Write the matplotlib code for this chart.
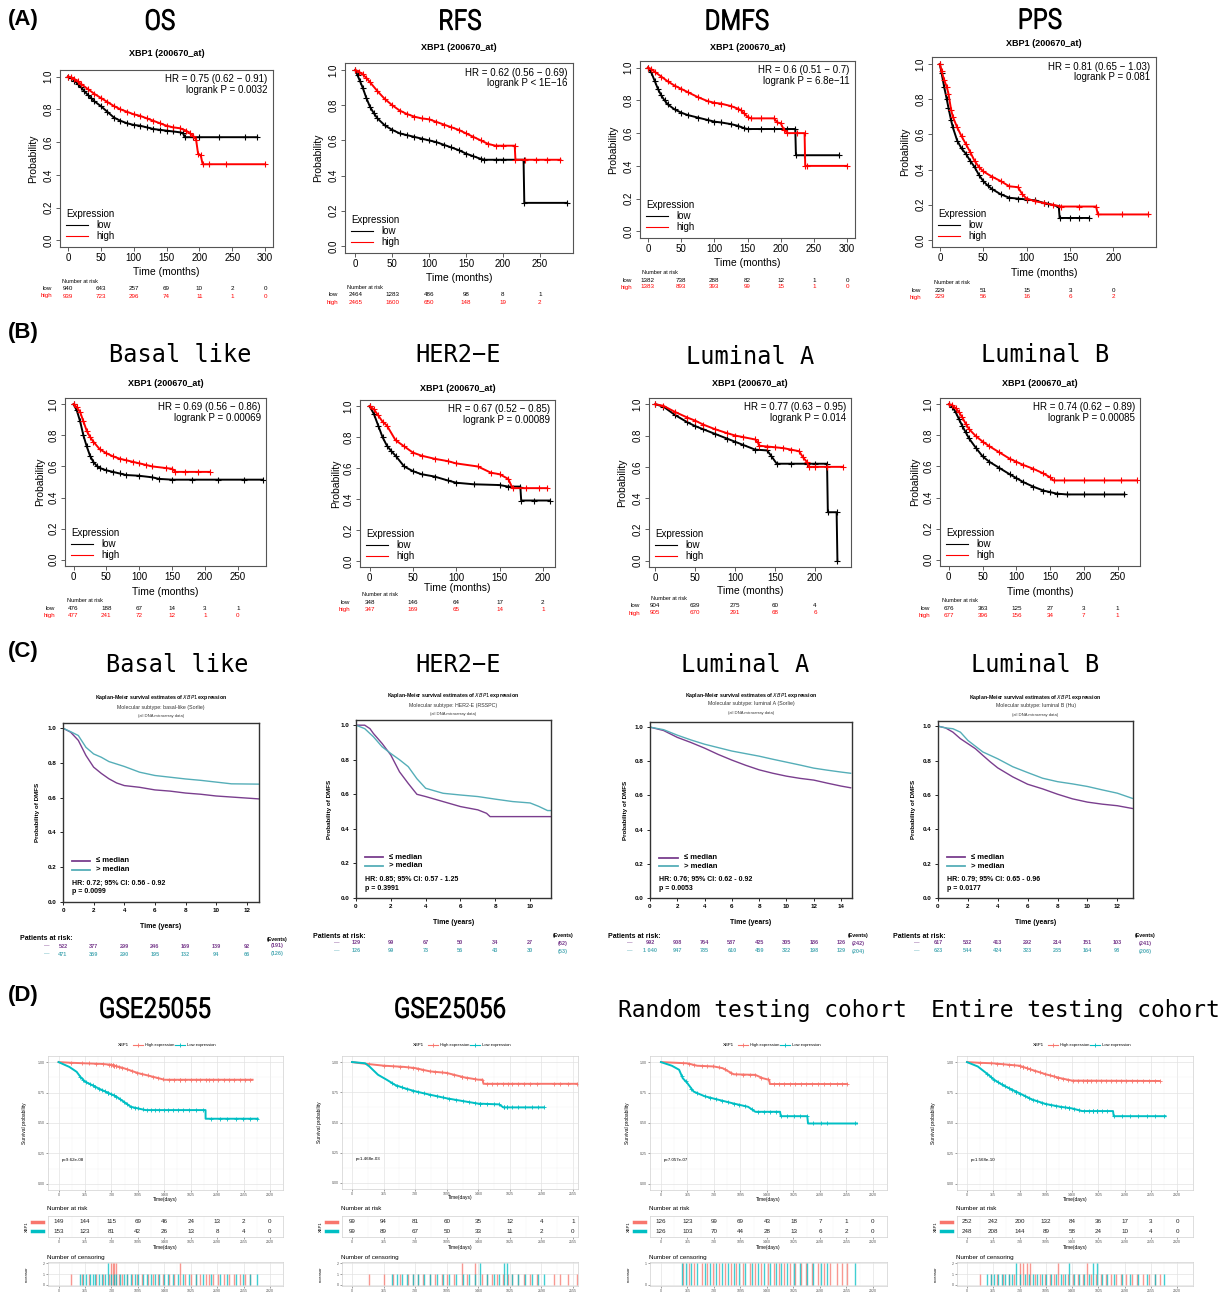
import numpy as np
import matplotlib
matplotlib.use('Agg')
import matplotlib.pyplot as plt
import matplotlib.patheffects as pe
from matplotlib import font_manager
from matplotlib.lines import Line2D
from matplotlib.transforms import blended_transform_factory

# ---------------- data ----------------
# (A) KM-plotter, time in months
os_low_t = [0, 5, 10, 15, 20, 25, 30, 35, 40, 50, 60, 70, 80, 90, 100, 110, 120, 130, 140, 150, 160, 170, 175, 178, 190, 200, 230, 270, 288]
os_low_s = [1.0, 0.99, 0.975, 0.955, 0.935, 0.91, 0.89, 0.87, 0.85, 0.82, 0.785, 0.75, 0.73, 0.715, 0.705, 0.70, 0.69, 0.68, 0.675, 0.67, 0.665, 0.66, 0.655, 0.63, 0.63, 0.63, 0.63, 0.63, 0.63]
os_high_t = [0, 5, 10, 15, 20, 30, 40, 50, 60, 70, 80, 90, 100, 110, 120, 130, 140, 150, 160, 170, 180, 185, 190, 195, 198, 202, 205, 215, 240, 300]
os_high_s = [1.0, 0.995, 0.985, 0.97, 0.955, 0.925, 0.895, 0.87, 0.845, 0.82, 0.80, 0.785, 0.77, 0.76, 0.745, 0.73, 0.715, 0.70, 0.69, 0.685, 0.67, 0.655, 0.64, 0.615, 0.53, 0.52, 0.465, 0.465, 0.465, 0.465]
os_risk_t = [0, 50, 100, 150, 200, 250, 300]
os_risk_low = [940, 643, 257, 69, 10, 2, 0]
os_risk_high = [939, 723, 296, 74, 11, 1, 0]

rfs_low_t = [0, 3, 6, 10, 15, 20, 25, 30, 40, 50, 60, 70, 80, 90, 100, 110, 120, 130, 140, 150, 160, 170, 175, 190, 200, 228, 229, 287]
rfs_low_s = [1.0, 0.97, 0.94, 0.90, 0.84, 0.79, 0.755, 0.725, 0.685, 0.66, 0.64, 0.63, 0.62, 0.61, 0.60, 0.59, 0.575, 0.56, 0.545, 0.525, 0.51, 0.495, 0.49, 0.49, 0.49, 0.49, 0.245, 0.245]
rfs_high_t = [0, 5, 10, 15, 20, 30, 40, 50, 60, 70, 80, 90, 100, 110, 120, 130, 140, 150, 160, 170, 180, 190, 200, 216, 217, 230, 245, 260, 278]
rfs_high_s = [1.0, 0.99, 0.975, 0.955, 0.93, 0.88, 0.835, 0.80, 0.77, 0.75, 0.735, 0.725, 0.72, 0.705, 0.69, 0.675, 0.66, 0.64, 0.62, 0.60, 0.58, 0.57, 0.57, 0.57, 0.49, 0.49, 0.49, 0.49, 0.49]
rfs_risk_t = [0, 50, 100, 150, 200, 250]
rfs_risk_low = [2464, 1283, 486, 98, 8, 1]
rfs_risk_high = [2465, 1600, 650, 148, 19, 2]

dmfs_low_t = [0, 5, 10, 15, 20, 25, 30, 40, 50, 60, 75, 90, 100, 110, 125, 135, 145, 150, 170, 190, 210, 222, 223, 235, 288]
dmfs_low_s = [1.0, 0.97, 0.92, 0.87, 0.83, 0.80, 0.775, 0.745, 0.725, 0.71, 0.695, 0.68, 0.67, 0.665, 0.655, 0.645, 0.63, 0.625, 0.625, 0.625, 0.625, 0.625, 0.465, 0.465, 0.465]
dmfs_high_t = [0, 5, 10, 20, 30, 40, 50, 60, 75, 90, 100, 110, 125, 135, 140, 145, 150, 155, 170, 190, 195, 200, 205, 210, 225, 236, 237, 240, 300]
dmfs_high_s = [1.0, 0.99, 0.975, 0.945, 0.915, 0.89, 0.87, 0.85, 0.82, 0.795, 0.785, 0.78, 0.765, 0.75, 0.74, 0.72, 0.70, 0.69, 0.69, 0.69, 0.665, 0.66, 0.62, 0.60, 0.60, 0.60, 0.40, 0.40, 0.40]
dmfs_risk_t = [0, 50, 100, 150, 200, 250, 300]
dmfs_risk_low = [1382, 738, 288, 82, 12, 1, 0]
dmfs_risk_high = [1383, 893, 393, 99, 15, 1, 0]

pps_low_t = [0, 2, 5, 8, 10, 13, 15, 20, 25, 30, 35, 40, 45, 50, 55, 60, 70, 80, 90, 100, 110, 120, 125, 137, 138, 150, 160, 172]
pps_low_s = [1.0, 0.95, 0.87, 0.80, 0.75, 0.68, 0.64, 0.565, 0.52, 0.49, 0.45, 0.415, 0.37, 0.335, 0.31, 0.29, 0.26, 0.24, 0.235, 0.23, 0.225, 0.21, 0.205, 0.19, 0.125, 0.125, 0.125, 0.125]
pps_high_t = [0, 2, 5, 8, 10, 13, 15, 20, 25, 30, 35, 40, 45, 50, 60, 70, 80, 90, 95, 100, 110, 120, 130, 140, 160, 180, 182, 210, 240]
pps_high_s = [1.0, 0.96, 0.91, 0.87, 0.83, 0.74, 0.70, 0.64, 0.59, 0.545, 0.50, 0.45, 0.415, 0.39, 0.36, 0.335, 0.305, 0.30, 0.26, 0.235, 0.22, 0.21, 0.20, 0.19, 0.19, 0.19, 0.145, 0.145, 0.145]
pps_risk_t = [0, 50, 100, 150, 200]
pps_risk_low = [229, 51, 15, 3, 0]
pps_risk_high = [229, 56, 16, 6, 2]

# (B) KM-plotter by PAM50 subtype
bb_low_t = [0, 5, 10, 15, 20, 25, 30, 35, 40, 50, 60, 70, 80, 100, 120, 130, 150, 180, 220, 260, 288]
bb_low_s = [1.0, 0.96, 0.89, 0.80, 0.73, 0.67, 0.63, 0.605, 0.59, 0.575, 0.565, 0.555, 0.545, 0.54, 0.53, 0.52, 0.515, 0.515, 0.515, 0.515, 0.515]
bb_high_t = [0, 5, 10, 15, 20, 25, 30, 40, 50, 60, 70, 80, 90, 100, 110, 120, 140, 150, 155, 170, 190, 207]
bb_high_s = [1.0, 0.98, 0.95, 0.89, 0.83, 0.79, 0.76, 0.71, 0.685, 0.665, 0.65, 0.64, 0.63, 0.62, 0.61, 0.60, 0.59, 0.585, 0.565, 0.565, 0.565, 0.565]
bb_risk_t = [0, 50, 100, 150, 200, 250]
bb_risk_low = [476, 188, 67, 14, 3, 1]
bb_risk_high = [477, 241, 72, 12, 1, 0]

bh_low_t = [0, 5, 10, 15, 20, 25, 30, 40, 50, 60, 75, 90, 100, 120, 150, 160, 174, 175, 190, 208]
bh_low_s = [1.0, 0.95, 0.875, 0.80, 0.745, 0.71, 0.68, 0.61, 0.58, 0.56, 0.545, 0.52, 0.505, 0.495, 0.49, 0.48, 0.48, 0.39, 0.39, 0.39]
bh_high_t = [0, 5, 10, 15, 20, 30, 40, 50, 60, 75, 90, 100, 125, 140, 150, 160, 165, 180, 195, 205]
bh_high_s = [1.0, 0.98, 0.94, 0.90, 0.875, 0.78, 0.74, 0.70, 0.68, 0.66, 0.645, 0.63, 0.61, 0.57, 0.56, 0.53, 0.47, 0.47, 0.47, 0.47]
bh_risk_t = [0, 50, 100, 150, 200]
bh_risk_low = [348, 146, 64, 17, 2]
bh_risk_high = [347, 169, 65, 14, 1]

bla_low_t = [0, 10, 25, 40, 50, 60, 75, 90, 100, 110, 125, 140, 145, 152, 170, 190, 200, 215, 216, 227, 228]
bla_low_s = [1.0, 0.985, 0.93, 0.885, 0.86, 0.84, 0.81, 0.78, 0.76, 0.74, 0.71, 0.705, 0.67, 0.62, 0.62, 0.62, 0.62, 0.62, 0.31, 0.31, 0.0]
bla_high_t = [0, 10, 25, 40, 50, 60, 75, 90, 100, 110, 125, 128, 130, 140, 150, 160, 170, 180, 185, 190, 192, 200, 215, 235]
bla_high_s = [1.0, 0.99, 0.95, 0.915, 0.895, 0.87, 0.84, 0.815, 0.80, 0.79, 0.775, 0.76, 0.735, 0.73, 0.725, 0.72, 0.71, 0.70, 0.66, 0.63, 0.60, 0.60, 0.60, 0.60]
bla_risk_t = [0, 50, 100, 150, 200]
bla_risk_low = [904, 639, 275, 60, 4]
bla_risk_high = [905, 670, 291, 68, 6]

blb_low_t = [0, 5, 10, 15, 20, 25, 30, 40, 50, 60, 75, 90, 100, 110, 125, 140, 150, 160, 175, 200, 230, 260]
blb_low_s = [1.0, 0.985, 0.95, 0.905, 0.86, 0.82, 0.78, 0.72, 0.665, 0.63, 0.59, 0.55, 0.525, 0.50, 0.47, 0.445, 0.435, 0.425, 0.42, 0.42, 0.42, 0.42]
blb_high_t = [0, 5, 10, 15, 20, 25, 30, 40, 50, 60, 75, 90, 100, 110, 125, 140, 150, 155, 170, 200, 230, 255, 278]
blb_high_s = [1.0, 0.995, 0.975, 0.95, 0.915, 0.875, 0.84, 0.795, 0.76, 0.73, 0.69, 0.65, 0.63, 0.61, 0.585, 0.555, 0.53, 0.51, 0.51, 0.51, 0.51, 0.51, 0.51]
blb_risk_t = [0, 50, 100, 150, 200, 250]
blb_risk_low = [676, 363, 125, 27, 3, 1]
blb_risk_high = [677, 396, 156, 34, 7, 1]

# (C) DMFS by subtype, time in years (<= median / > median)
cb_low_t = [0, 0.5, 1, 1.5, 2, 2.5, 3, 3.5, 4, 5, 6, 7, 8, 9, 10, 11, 12, 13]
cb_low_s = [1.0, 0.977, 0.93, 0.843, 0.776, 0.74, 0.709, 0.685, 0.67, 0.66, 0.645, 0.638, 0.627, 0.62, 0.61, 0.604, 0.598, 0.592]
cb_high_t = [0, 0.5, 1, 1.5, 2, 2.5, 3, 4, 5, 6, 7, 8, 9, 10, 11, 13]
cb_high_s = [1.0, 0.98, 0.958, 0.89, 0.852, 0.833, 0.808, 0.78, 0.747, 0.728, 0.718, 0.708, 0.70, 0.69, 0.68, 0.678]
cb_risk_t = [0, 2, 4, 6, 8, 10, 12]
cb_risk_low = [522, 377, 299, 246, 169, 139, 92]
cb_risk_high = [471, 359, 290, 195, 132, 94, 66]
cb_events = ['(191)', '(126)']

ch_low_t = [0, 0.5, 0.8, 1, 1.5, 2, 2.5, 3, 3.3, 3.5, 4, 5, 6, 7, 7.5, 7.7, 11.2]
ch_low_s = [1.0, 1.0, 0.98, 0.952, 0.894, 0.827, 0.73, 0.663, 0.625, 0.60, 0.587, 0.558, 0.529, 0.51, 0.49, 0.471, 0.471]
ch_high_t = [0, 0.5, 1, 1.5, 2, 2.5, 3, 3.5, 4, 5, 6, 7, 8, 9, 10, 10.5, 11, 11.2]
ch_high_s = [1.0, 0.98, 0.933, 0.875, 0.836, 0.80, 0.76, 0.69, 0.635, 0.606, 0.596, 0.587, 0.572, 0.558, 0.55, 0.53, 0.506, 0.506]
ch_risk_t = [0, 2, 4, 6, 8, 10]
ch_risk_low = [129, 99, 67, 50, 34, 27]
ch_risk_high = [126, 99, 73, 56, 43, 30]
ch_events = ['(62)', '(53)']

cla_low_t = [0, 1, 2, 3, 4, 5, 6, 7, 8, 9, 10, 11, 12, 13, 14, 14.7]
cla_low_s = [1.0, 0.98, 0.94, 0.91, 0.877, 0.84, 0.807, 0.777, 0.75, 0.73, 0.713, 0.70, 0.69, 0.672, 0.655, 0.645]
cla_high_t = [0, 1, 2, 3, 4, 5, 6, 7, 8, 9, 10, 11, 12, 13, 14, 14.7]
cla_high_s = [1.0, 0.985, 0.953, 0.925, 0.90, 0.88, 0.86, 0.845, 0.83, 0.812, 0.795, 0.778, 0.76, 0.748, 0.737, 0.73]
cla_risk_t = [0, 2, 4, 6, 8, 10, 12, 14]
cla_risk_low = [992, 908, 764, 587, 425, 305, 186, 126]
cla_risk_high = ['1 040', 947, 785, 610, 459, 322, 198, 129]
cla_events = ['(242)', '(204)']

clb_low_t = [0, 0.5, 1, 1.5, 2, 2.5, 3, 3.5, 4, 5, 6, 7, 8, 9, 10, 11, 12, 13]
clb_low_s = [1.0, 0.99, 0.965, 0.927, 0.898, 0.869, 0.83, 0.792, 0.757, 0.705, 0.662, 0.635, 0.604, 0.577, 0.558, 0.546, 0.537, 0.521]
clb_high_t = [0, 0.5, 1, 1.5, 2, 3, 4, 5, 6, 7, 8, 9, 10, 11, 12, 13]
clb_high_s = [1.0, 0.99, 0.985, 0.965, 0.917, 0.85, 0.81, 0.764, 0.73, 0.697, 0.677, 0.664, 0.649, 0.629, 0.61, 0.58]
clb_risk_t = [0, 2, 4, 6, 8, 10, 12]
clb_risk_low = [617, 532, 413, 292, 214, 151, 103]
clb_risk_high = [623, 544, 424, 323, 235, 164, 98]
clb_events = ['(241)', '(206)']

# (D) GEO cohorts, time in days (High / Low expression)
d55_high_t = [0, 150, 365, 600, 730, 900, 1000, 1095, 1200, 1300, 1400, 1460, 2680]
d55_high_s = [1.0, 0.995, 0.99, 0.985, 0.978, 0.95, 0.93, 0.91, 0.895, 0.88, 0.865, 0.855, 0.855]
d55_low_t = [0, 150, 250, 300, 365, 500, 600, 700, 800, 900, 1000, 1095, 1200, 2030, 2031, 2750]
d55_low_s = [1.0, 0.96, 0.92, 0.88, 0.84, 0.80, 0.77, 0.744, 0.716, 0.675, 0.633, 0.62, 0.606, 0.606, 0.535, 0.535]
d55_cens_high = [165, 330, 420, 520, 610, 700, 725, 725, 745, 745, 770, 770, 790, 790, 830, 880, 940, 1010, 1080, 1150, 1230, 1300, 1370, 1440, 1520, 1600, 1680, 1680, 1750, 1830, 1900, 1960, 2030, 2080, 2130, 2200, 2280, 2350, 2420, 2500, 2580, 2650]
d55_cens_low = [300, 340, 380, 430, 470, 510, 560, 600, 640, 677, 677, 720, 760, 800, 850, 900, 950, 1000, 1050, 1100, 1160, 1220, 1280, 1330, 1390, 1450, 1510, 1580, 1650, 1720, 1800, 1900, 2000, 2100, 2230, 2330, 2450, 2550, 2650, 2740]
d55_risk_high = [149, 144, 115, 69, 46, 24, 13, 2, 0]
d55_risk_low = [153, 123, 81, 42, 26, 13, 8, 4, 0]

d56_high_t = [0, 100, 365, 600, 730, 900, 1095, 1300, 1460, 1510, 1520, 2620]
d56_high_s = [1.0, 0.99, 0.97, 0.96, 0.95, 0.923, 0.91, 0.873, 0.854, 0.854, 0.82, 0.82]
d56_low_t = [0, 150, 200, 300, 400, 500, 600, 730, 900, 1095, 1300, 1460, 1700, 1750, 2215]
d56_low_s = [1.0, 0.99, 0.964, 0.895, 0.854, 0.81, 0.785, 0.758, 0.73, 0.70, 0.675, 0.656, 0.65, 0.625, 0.625]
d56_cens_high = [193, 366, 470, 560, 650, 700, 760, 820, 900, 960, 1040, 1100, 1180, 1272, 1272, 1330, 1426, 1426, 1500, 1560, 1620, 1680, 1740, 1800, 1850, 1920, 1990, 2060, 2140, 2331, 2408, 2500, 2600]
d56_cens_low = [460, 520, 580, 640, 700, 760, 830, 900, 980, 1050, 1120, 1200, 1280, 1350, 1420, 1484, 1484, 1560, 1640, 1700, 1753, 1753, 1790, 1790, 1850, 1920, 2000, 2080, 2150, 2215]
d56_risk_high = [99, 94, 81, 60, 35, 12, 4, 1]
d56_risk_low = [99, 89, 67, 50, 33, 11, 2, 0]

rnd_high_t = [0, 365, 500, 730, 850, 1000, 1300, 1400, 1490, 1500, 2560]
rnd_high_s = [1.0, 0.99, 0.97, 0.964, 0.95, 0.90, 0.895, 0.868, 0.854, 0.82, 0.82]
rnd_low_t = [0, 150, 250, 300, 365, 450, 600, 730, 1000, 1200, 1300, 1640, 1650, 2015, 2025, 2700]
rnd_low_s = [1.0, 0.97, 0.937, 0.868, 0.826, 0.758, 0.72, 0.70, 0.66, 0.633, 0.592, 0.592, 0.556, 0.556, 0.496, 0.496]
rnd_cens_high = [300, 380, 450, 560, 640, 720, 800, 880, 960, 1040, 1130, 1220, 1300, 1380, 1470, 1550, 1620, 1700, 1780, 1850, 1930, 2000, 2080, 2160, 2250, 2330, 2420, 2500, 2560]
rnd_cens_low = [290, 340, 420, 500, 600, 680, 760, 840, 920, 1000, 1080, 1160, 1250, 1330, 1420, 1500, 1580, 1660, 1740, 1830, 1920, 2010, 2100, 2200, 2290, 2676]
rnd_risk_high = [126, 123, 99, 69, 43, 18, 7, 1, 0]
rnd_risk_low = [126, 103, 70, 44, 28, 13, 6, 2, 0]

ent_high_t = [0, 150, 365, 730, 900, 1095, 1300, 1460, 2680]
ent_high_s = [1.0, 0.995, 0.99, 0.97, 0.937, 0.90, 0.868, 0.848, 0.845]
ent_low_t = [0, 150, 300, 365, 500, 730, 900, 1095, 1300, 1460, 1600, 2030, 2040, 2760]
ent_low_s = [1.0, 0.964, 0.895, 0.86, 0.81, 0.744, 0.694, 0.656, 0.633, 0.62, 0.598, 0.598, 0.556, 0.556]
ent_cens_high = [177, 340, 420, 500, 580, 660, 735, 735, 780, 780, 830, 830, 875, 875, 940, 1010, 1080, 1150, 1210, 1270, 1270, 1340, 1410, 1480, 1550, 1610, 1665, 1665, 1720, 1790, 1860, 1930, 2000, 2070, 2140, 2210, 2290, 2370, 2450, 2530, 2620, 2680]
ent_cens_low = [280, 330, 380, 430, 480, 530, 580, 630, 688, 688, 740, 800, 860, 920, 980, 1040, 1100, 1170, 1240, 1300, 1360, 1423, 1423, 1490, 1560, 1630, 1700, 1758, 1758, 1805, 1805, 1870, 1950, 2050, 2150, 2260, 2380, 2500, 2620, 2740]
ent_risk_high = [252, 242, 200, 132, 84, 36, 17, 3, 0]
ent_risk_low = [248, 208, 144, 89, 58, 24, 10, 4, 0]

# ---------------- fonts / figure ----------------
installed = {f.name for f in font_manager.fontManager.ttflist}


def pick(*names):
    for n in names:
        if n in installed:
            return n
    return 'DejaVu Sans'


SANS = pick('Liberation Sans', 'Arimo', 'DejaVu Sans')
NARROW = pick('Liberation Sans Narrow', 'DejaVu Sans Condensed', 'Roboto Condensed', 'Open Sans Condensed', 'Noto Sans')
MONO = pick('DejaVu Sans Mono', 'Liberation Mono')
# lightest face the condensed family has, thickened a little with a stroke below
narrow_weights = [f.weight for f in font_manager.fontManager.ttflist if f.name == NARROW]
NARROW_W = min([w if isinstance(w, int) else 400 for w in narrow_weights] or [400])
NARROW_W = max(NARROW_W, 300)
plt.rcParams['font.family'] = [SANS, 'DejaVu Sans']

W, H = 1225, 1294
fig = plt.figure(figsize=(W / 100, H / 100), dpi=100)

PURPLE = '#7A3E8E'
TEAL = '#55AEB8'
RED_D = '#F8766D'
TEAL_D = '#00BFC4'


def box(x0, y0, x1, y1):
    return [x0 / W, 1 - y1 / H, (x1 - x0) / W, (y1 - y0) / H]


def txt(x, y, s, **kw):
    kw.setdefault('ha', 'center')
    kw.setdefault('va', 'center')
    return fig.text(x / W, 1 - y / H, s, **kw)


def title_txt(x, y, s, font, size):
    if font == NARROW:
        t = txt(x, y, s, fontsize=size, family=font, fontweight=NARROW_W)
        if NARROW_W < 400:
            t.set_path_effects([pe.withStroke(linewidth=0.9, foreground='black')])
    else:
        txt(x, y, s, fontsize=size, family=font)


# panel letters
for lab, y in [('(A)', 20), ('(B)', 333), ('(C)', 652), ('(D)', 995)]:
    txt(8, y, lab, ha='left', fontsize=16, fontweight='bold')


# ---------------- (A) and (B): KM plotter style ----------------
def draw_kmplot(lay, title, tfont, low_t, low_s, high_t, high_s, hr, risk_t, risk_low, risk_high):
    x0, y0, x1, y1 = lay['box']
    ax = fig.add_axes(box(x0, y0, x1, y1))
    ax.plot(low_t, low_s, color='black', lw=1.4, marker='+', ms=4, mew=0.8)
    ax.plot(high_t, high_s, color='red', lw=1.4, marker='+', ms=4, mew=0.8)
    ax.set_xlim(*lay['xlim'])
    ax.set_ylim(-0.04, 1.04)
    ax.set_xticks(risk_t)
    ax.set_yticks([0, 0.2, 0.4, 0.6, 0.8, 1.0])
    ax.set_yticklabels(['0.0', '0.2', '0.4', '0.6', '0.8', '1.0'], rotation=90, va='center')
    ax.tick_params(labelsize=7, length=3, width=0.6, color='#444444', pad=1.5)
    for sp in ax.spines.values():
        sp.set_color('#555555')
        sp.set_linewidth(0.8)
    ax.text(0.975, 0.975, hr, transform=ax.transAxes, ha='right', va='top', fontsize=7, linespacing=1.05)
    ax.legend([Line2D([], [], color='black', lw=0.8), Line2D([], [], color='red', lw=0.8)], ['low', 'high'],
              title='Expression', loc='lower left', frameon=False, fontsize=7, title_fontsize=7,
              handlelength=2.3, borderaxespad=0.2, labelspacing=0.1, alignment='left')
    cx = (x0 + x1) / 2
    title_txt(lay['title'][0], lay['title'][1], title, tfont, lay.get('tsize', 20))
    txt(cx, lay['sub'], 'XBP1 (200670_at)', fontsize=6.5, fontweight='bold')
    txt(cx, lay['xl'], 'Time (months)', fontsize=7.5)
    txt(lay['yl'], (y0 + y1) / 2, 'Probability', fontsize=7.5, rotation=90)
    r0 = lay['risk']
    txt(x0 + 2, r0, 'Number at risk', ha='left', fontsize=4)
    txt(lay['lab'], r0 + 7, 'low', ha='right', fontsize=4.5)
    txt(lay['lab'], r0 + 14, 'high', ha='right', fontsize=4.5, color='red')
    tr = blended_transform_factory(ax.transData, fig.transFigure)
    for t, a, b in zip(risk_t, risk_low, risk_high):
        ax.text(t, 1 - (r0 + 7) / H, str(a), transform=tr, ha='center', va='center', fontsize=4.5)
        ax.text(t, 1 - (r0 + 14) / H, str(b), transform=tr, ha='center', va='center', fontsize=4.5, color='red')


draw_kmplot(dict(box=(60, 70, 273, 247), xlim=(-12, 312), title=(160, 22), sub=54, xl=272, yl=33, risk=282, lab=52),
            'OS', NARROW, os_low_t, os_low_s, os_high_t, os_high_s,
            'HR = 0.75 (0.62 \u2212 0.91)\nlogrank P = 0.0032', os_risk_t, os_risk_low, os_risk_high)
draw_kmplot(dict(box=(345, 63, 573, 253), xlim=(-14, 295), title=(460, 22), sub=48, xl=278, yl=318, risk=288, lab=338),
            'RFS', NARROW, rfs_low_t, rfs_low_s, rfs_high_t, rfs_high_s,
            'HR = 0.62 (0.56 \u2212 0.69)\nlogrank P < 1E\u221216', rfs_risk_t, rfs_risk_low, rfs_risk_high)
draw_kmplot(dict(box=(640, 61, 855, 238), xlim=(-12, 312), title=(737, 22), sub=47, xl=263, yl=613, risk=273, lab=632),
            'DMFS', NARROW, dmfs_low_t, dmfs_low_s, dmfs_high_t, dmfs_high_s,
            'HR = 0.6 (0.51 \u2212 0.7)\nlogrank P = 6.8e\u221211', dmfs_risk_t, dmfs_risk_low, dmfs_risk_high)
draw_kmplot(dict(box=(932, 57, 1156, 247), xlim=(-9, 249), title=(1040, 21), sub=43, xl=273, yl=905, risk=283, lab=921),
            'PPS', NARROW, pps_low_t, pps_low_s, pps_high_t, pps_high_s,
            'HR = 0.81 (0.65 \u2212 1.03)\nlogrank P = 0.081', pps_risk_t, pps_risk_low, pps_risk_high)

draw_kmplot(dict(box=(65, 398, 266, 566), xlim=(-13, 293), title=(180, 355), tsize=17, sub=384, xl=592, yl=40, risk=601, lab=55),
            'Basal like', MONO, bb_low_t, bb_low_s, bb_high_t, bb_high_s,
            'HR = 0.69 (0.56 \u2212 0.86)\nlogrank P = 0.00069', bb_risk_t, bb_risk_low, bb_risk_high)
draw_kmplot(dict(box=(360, 400, 555, 567), xlim=(-11, 214), title=(458, 355), tsize=17, sub=388, xl=588, yl=336, risk=595, lab=350),
            'HER2\u2212E', MONO, bh_low_t, bh_low_s, bh_high_t, bh_high_s,
            'HR = 0.67 (0.52 \u2212 0.85)\nlogrank P = 0.00089', bh_risk_t, bh_risk_low, bh_risk_high)
draw_kmplot(dict(box=(649, 398, 851, 567), xlim=(-8, 245), title=(750, 357), tsize=17, sub=383, xl=591, yl=622, risk=599, lab=640),
            'Luminal A', MONO, bla_low_t, bla_low_s, bla_high_t, bla_high_s,
            'HR = 0.77 (0.63 \u2212 0.95)\nlogrank P = 0.014', bla_risk_t, bla_risk_low, bla_risk_high)
draw_kmplot(dict(box=(940, 398, 1140, 566), xlim=(-13, 283), title=(1045, 355), tsize=17, sub=384, xl=592, yl=915, risk=601, lab=930),
            'Luminal B', MONO, blb_low_t, blb_low_s, blb_high_t, blb_high_s,
            'HR = 0.74 (0.62 \u2212 0.89)\nlogrank P = 0.00085', blb_risk_t, blb_risk_low, blb_risk_high)


# ---------------- (C): bc-GenExMiner style ----------------
def draw_genex(lay, title, subtype, low_t, low_s, high_t, high_s, hr, pv, risk_t, risk_low, risk_high, events):
    x0, y0, x1, y1 = lay['box']
    ax = fig.add_axes(box(x0, y0, x1, y1))
    ax.plot(low_t, low_s, color=PURPLE, lw=1.0)
    ax.plot(high_t, high_s, color=TEAL, lw=1.0)
    ax.set_xlim(0, lay['xmax'])
    ax.set_ylim(0, 1.03)
    ax.set_xticks(risk_t)
    ax.set_yticks([0, 0.2, 0.4, 0.6, 0.8, 1.0])
    ax.set_yticklabels(['0.0', '0.2', '0.4', '0.6', '0.8', '1.0'])
    ax.tick_params(labelsize=4.5, length=2.5, width=0.6, pad=2)
    for lbl in ax.get_xticklabels() + ax.get_yticklabels():
        lbl.set_fontweight('bold')
    for sp in ax.spines.values():
        sp.set_color('#333333')
        sp.set_linewidth(1.0)
    ax.plot([0.046, 0.14], [0.23, 0.23], transform=ax.transAxes, color=PURPLE, lw=1.3)
    ax.plot([0.046, 0.14], [0.18, 0.18], transform=ax.transAxes, color=TEAL, lw=1.3)
    ax.text(0.17, 0.23, '\u2264 median', transform=ax.transAxes, va='center', fontsize=5.5, fontweight='bold')
    ax.text(0.17, 0.18, '> median', transform=ax.transAxes, va='center', fontsize=5.5, fontweight='bold')
    ax.text(0.045, 0.107, hr, transform=ax.transAxes, va='center', fontsize=5, fontweight='bold')
    ax.text(0.045, 0.056, pv, transform=ax.transAxes, va='center', fontsize=5, fontweight='bold')
    cx = (x0 + x1) / 2
    title_txt(lay['title'][0], lay['title'][1], title, MONO, 17)
    txt(cx, lay['sub'], 'Kaplan-Meier survival estimates of $\\mathit{XBP1}$ expression', fontsize=3.8, fontweight='bold')
    txt(cx, lay['sub'] + 9, 'Molecular subtype: ' + subtype, fontsize=3.8, color='#333333')
    txt(cx, lay['sub'] + 18, '(all DNA microarray data)', fontsize=3, color='#333333')
    txt(cx, lay['xl'], 'Time (years)', fontsize=5, fontweight='bold')
    txt(lay['yl'], (y0 + y1) / 2, 'Probability of DMFS', fontsize=4.5, fontweight='bold', rotation=90)
    r0 = lay['risk']
    txt(lay['pr'], r0, 'Patients at risk:', ha='left', fontsize=5, fontweight='bold')
    txt(lay['ev'], r0, '(Events)', fontsize=3.8, fontweight='bold')
    tr = blended_transform_factory(ax.transData, fig.transFigure)
    for row, vals, col in [(r0 + 7, risk_low, PURPLE), (r0 + 15, risk_high, TEAL)]:
        txt(lay['dash'], row, '\u2014', fontsize=4, color=col)
        for t, n in zip(risk_t, vals):
            ax.text(t, 1 - row / H, str(n), transform=tr, ha='center', va='center', fontsize=4,
                    fontweight='bold', color=col)
    txt(lay['ev'], r0 + 7, events[0], fontsize=4, fontweight='bold', color=PURPLE)
    txt(lay['ev'], r0 + 15, events[1], fontsize=4, fontweight='bold', color=TEAL)


draw_genex(dict(box=(63, 723, 259, 902), xmax=12.8, title=(177, 665), sub=698, xl=926, yl=38, risk=939, pr=20, ev=277, dash=47),
           'Basal like', 'basal-like (Sorlie)', cb_low_t, cb_low_s, cb_high_t, cb_high_s,
           'HR: 0.72; 95% CI: 0.56 - 0.92', 'p = 0.0099', cb_risk_t, cb_risk_low, cb_risk_high, cb_events)
draw_genex(dict(box=(356, 720, 551, 898), xmax=11.2, title=(458, 665), sub=696, xl=923, yl=330, risk=936, pr=313, ev=563, dash=337),
           'HER2\u2212E', 'HER2-E (RSSPC)', ch_low_t, ch_low_s, ch_high_t, ch_high_s,
           'HR: 0.85; 95% CI: 0.57 - 1.25', 'p = 0.3991', ch_risk_t, ch_risk_low, ch_risk_high, ch_events)
draw_genex(dict(box=(650, 722, 852, 898), xmax=14.8, title=(745, 665), sub=695, xl=923, yl=625, risk=936, pr=608, ev=858, dash=630),
           'Luminal A', 'luminal A (Sorlie)', cla_low_t, cla_low_s, cla_high_t, cla_high_s,
           'HR: 0.76; 95% CI: 0.62 - 0.92', 'p = 0.0053', cla_risk_t, cla_risk_low, cla_risk_high, cla_events)
draw_genex(dict(box=(938, 721, 1133, 898), xmax=13.05, title=(1035, 665), sub=697, xl=923, yl=913, risk=936, pr=893, ev=1145, dash=917),
           'Luminal B', 'luminal B (Hu)', clb_low_t, clb_low_s, clb_high_t, clb_high_s,
           'HR: 0.79; 95% CI: 0.65 - 0.96', 'p = 0.0177', clb_risk_t, clb_risk_low, clb_risk_high, clb_events)


# ---------------- (D): survminer style ----------------
def gg_axes(b, xlim, ticks):
    ax = fig.add_axes(box(*b))
    ax.set_xlim(*xlim)
    ax.set_xticks(ticks)
    ax.set_xticks([(a + c) / 2 for a, c in zip(ticks[:-1], ticks[1:])], minor=True)
    ax.grid(which='major', color='#E3E3E3', lw=0.5)
    ax.grid(which='minor', color='#F2F2F2', lw=0.3)
    ax.set_axisbelow(True)
    ax.tick_params(which='both', labelsize=2.6, length=1.2, width=0.4, pad=1, colors='#555555')
    ax.tick_params(which='minor', length=0)
    for sp in ax.spines.values():
        sp.set_color('#D0D0D0')
        sp.set_linewidth(0.5)
    return ax


def draw_surv(lay, title, tfont, high_t, high_s, low_t, low_s, cens_high, cens_low, ptxt, risk_high, risk_low):
    ticks = list(lay['ticks'])
    x0, y0, x1, y1 = lay['main']
    ax = gg_axes(lay['main'], lay['xlim'], ticks)
    ax.set_ylim(-0.05, 1.05)
    ax.set_yticks([0, 0.25, 0.5, 0.75, 1.0])
    ax.set_yticklabels(['0.00', '0.25', '0.50', '0.75', '1.00'])
    ax.set_yticks([0.125, 0.375, 0.625, 0.875], minor=True)
    for t, s, c, col in [(high_t, high_s, cens_high, RED_D), (low_t, low_s, cens_low, TEAL_D)]:
        ax.plot(t, s, color=col, lw=1.4)
        ax.plot(c, np.interp(c, t, s), ls='none', marker='+', ms=2.8, mew=0.6, color=col)
    ax.text(0.06, 0.225, ptxt, transform=ax.transAxes, fontsize=3.2, va='center')
    title_txt(lay['title'][0], lay['title'][1], title, tfont, lay.get('tsize', 20))
    txt((x0 + x1) / 2, y1 + 9, 'Time(days)', fontsize=3.5)
    txt(x0 - 23, (y0 + y1) / 2, 'Survival probability', fontsize=3.5, rotation=90)

    # legend on top
    lx, ly = lay['leg']
    txt(lx - 47, ly, 'XBP1', ha='left', fontsize=3.2)
    for dx, col, lab in [(-32, RED_D, 'High expression'), (10, TEAL_D, 'Low expression')]:
        fig.add_artist(Line2D([(lx + dx) / W, (lx + dx + 5) / W, (lx + dx + 10) / W], [1 - ly / H] * 3,
                              transform=fig.transFigure, color=col, lw=0.8, marker='+', ms=2.5, mew=0.6,
                              markevery=[1]))
        txt(lx + dx + 12, ly, lab, ha='left', fontsize=3)

    # number at risk table
    rx0, ry0, rx1, ry1 = lay['risk']
    rax = gg_axes(lay['risk'], lay['xlim'], ticks)
    rax.grid(False)
    rax.set_ylim(0, 1)
    rax.set_yticks([])
    for t, a, b in zip(ticks, risk_high, risk_low):
        rax.text(t, 0.73, str(a), ha='center', va='center', fontsize=4.5, color='#222222')
        rax.text(t, 0.27, str(b), ha='center', va='center', fontsize=4.5, color='#222222')
    rax.plot([-0.068, -0.021], [0.73, 0.73], transform=rax.transAxes, clip_on=False, color=RED_D, lw=2.5)
    rax.plot([-0.068, -0.021], [0.27, 0.27], transform=rax.transAxes, clip_on=False, color=TEAL_D, lw=2.5)
    txt(rx0 - 21, (ry0 + ry1) / 2, 'XBP1', fontsize=3, rotation=90)
    txt(rx0 - 1, ry0 - 7, 'Number at risk', ha='left', fontsize=4.5)
    txt((rx0 + rx1) / 2, ry1 + 10, 'Time(days)', fontsize=3.5)

    # number of censoring
    cx0, cy0, cx1, cy1 = lay['cens']
    cax = gg_axes(lay['cens'], lay['xlim'], ticks)
    vh, nh = np.unique(cens_high, return_counts=True)
    vl, nl = np.unique(cens_low, return_counts=True)
    m = max(nh.max(), nl.max())
    cax.vlines(vh, 0, nh, color=RED_D, lw=1.0, alpha=0.75)
    cax.vlines(vl, 0, nl, color=TEAL_D, lw=1.0, alpha=0.75)
    cax.set_ylim(-0.05 * m, 1.05 * m)
    cax.set_yticks(range(0, m + 1))
    txt(cx0 - 21, (cy0 + cy1) / 2, 'n.censor', fontsize=3, rotation=90)
    txt(cx0 - 1, cy0 - 5, 'Number of censoring', ha='left', fontsize=4.5)
    txt((cx0 + cx1) / 2, cy1 + 11, 'Time(days)', fontsize=3.5)


draw_surv(dict(main=(48, 1056, 283, 1190), xlim=(-146, 3100), ticks=range(0, 2921, 365), title=(155, 1010), leg=(165, 1045),
               risk=(48, 1216, 283, 1237), cens=(48, 1262, 283, 1286)),
          'GSE25055', NARROW, d55_high_t, d55_high_s, d55_low_t, d55_low_s, d55_cens_high, d55_cens_low,
          'p=9.62e-08', d55_risk_high, d55_risk_low)
draw_surv(dict(main=(342, 1056, 578, 1189), xlim=(-116, 2613), ticks=range(0, 2556, 365), title=(450, 1010), leg=(460, 1045),
               risk=(342, 1216, 578, 1237), cens=(342, 1262, 578, 1286)),
          'GSE25056', NARROW, d56_high_t, d56_high_s, d56_low_t, d56_low_s, d56_cens_high, d56_cens_low,
          'p=1.468e-03', d56_risk_high, d56_risk_low)
draw_surv(dict(main=(650, 1056, 887, 1190), xlim=(-151, 3113), ticks=range(0, 2921, 365), title=(762, 1010), leg=(770, 1045),
               risk=(650, 1216, 887, 1237), cens=(650, 1262, 887, 1286), tsize=16.5),
          'Random testing cohort', MONO, rnd_high_t, rnd_high_s, rnd_low_t, rnd_low_s, rnd_cens_high, rnd_cens_low,
          'p=7.057e-07', rnd_risk_high, rnd_risk_low)
draw_surv(dict(main=(957, 1056, 1193, 1190), xlim=(-139, 3142), ticks=range(0, 2921, 365), title=(1075, 1010), leg=(1080, 1045),
               risk=(957, 1216, 1193, 1237), cens=(957, 1262, 1193, 1286), tsize=16.5),
          'Entire testing cohort', MONO, ent_high_t, ent_high_s, ent_low_t, ent_low_s, ent_cens_high, ent_cens_low,
          'p=1.568e-10', ent_risk_high, ent_risk_low)

fig.savefig('out.png', dpi=100)
